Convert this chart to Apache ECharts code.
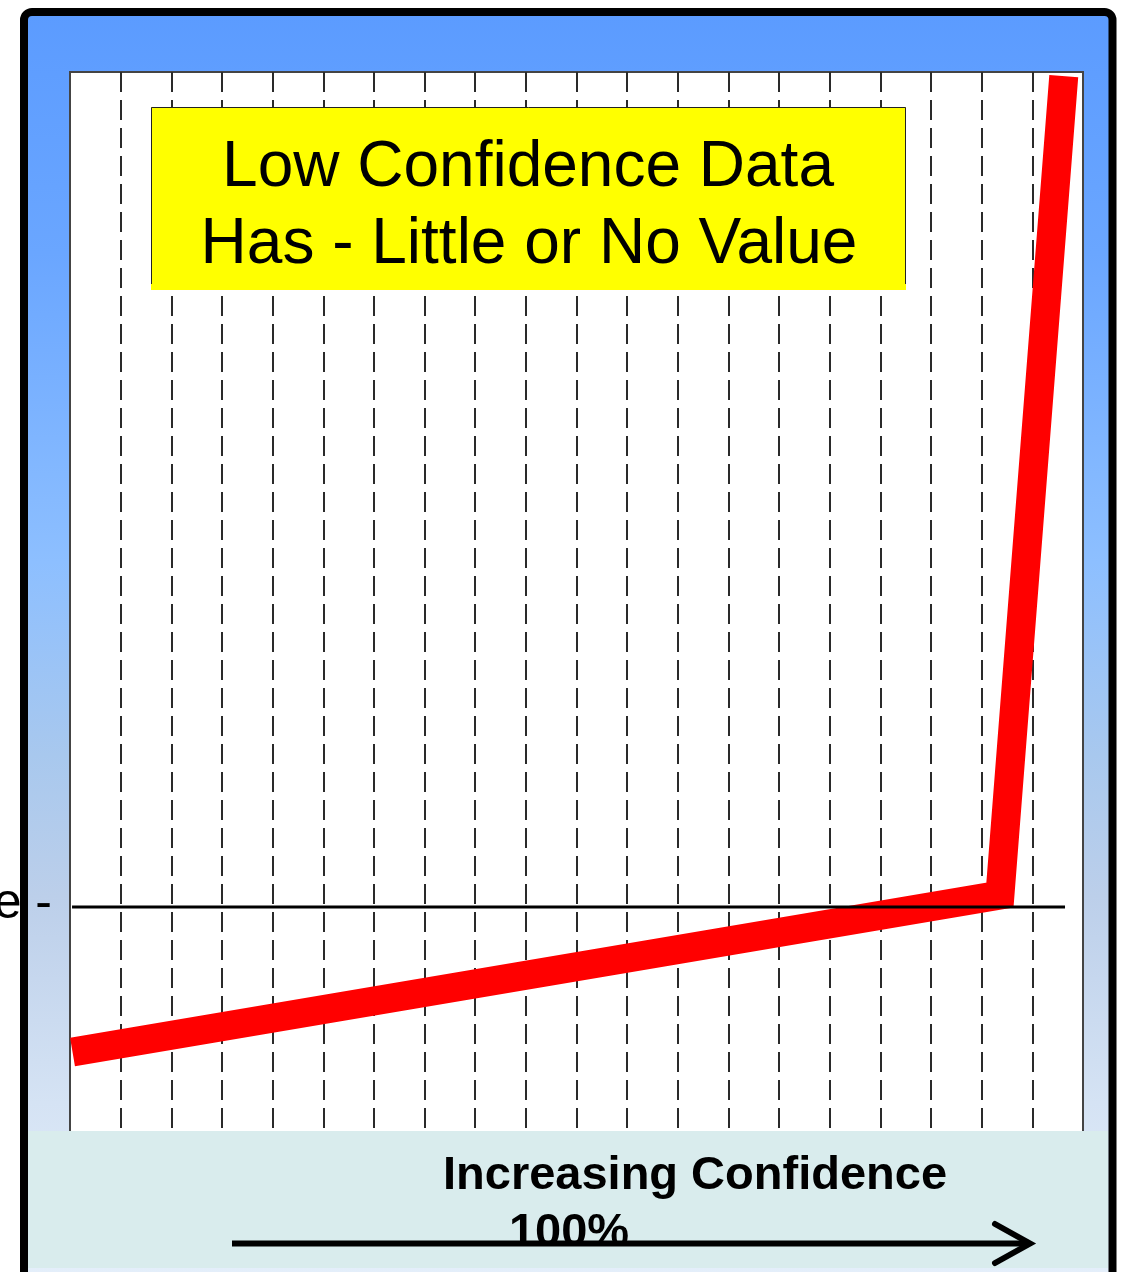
<!DOCTYPE html>
<html>
<head>
<meta charset="utf-8">
<script src="https://cdn.jsdelivr.net/npm/echarts@6/dist/echarts.min.js"></script>
<style>
html,body{margin:0;padding:0;background:#fff;}
#chart{width:1121px;height:1272px;}
</style>
</head>
<body>
<div id="chart"></div>
<script>
// Data
const confidencePositions = [0.05, 18.36, 19.62];   // x (confidence scale, 0..20)
const valueLevels = [7.55, 22.36, 99.6];             // y (value scale, 0..100)
const baselineX = [0.04, 19.645];
const baselineY = [21.23, 21.23];
const xTickCount = 20;
const titleLines = ['Low Confidence Data', 'Has - Little or No Value'];
const axisTitle = 'Increasing Confidence';
const axisSubTitle = '100%';
const sideLabel = 'e -';

const FONT = '"Liberation Sans", Arial, sans-serif';
const chart = echarts.init(document.getElementById('chart'), null, {renderer: 'canvas'});

const curveData = confidencePositions.map((x, i) => [x, valueLevels[i]]);
const baseData = baselineX.map((x, i) => [x, baselineY[i]]);

const option = {
  animation: false,
  backgroundColor: '#ffffff',
  grid: {
    left: 70, right: 38, top: 72, bottom: 140,
    show: true, backgroundColor: '#ffffff',
    borderColor: '#444', borderWidth: 2
  },
  xAxis: {
    type: 'value', min: 0, max: xTickCount, interval: 1,
    axisLine: {show: false}, axisTick: {show: false}, axisLabel: {show: false},
    splitLine: {show: true, showMinLine: false, showMaxLine: false,
      lineStyle: {color: '#2a2a2a', width: 2, type: [20, 8]}}
  },
  yAxis: {
    type: 'value', min: 0, max: 100,
    axisLine: {show: false}, axisTick: {show: false}, axisLabel: {show: false},
    splitLine: {show: false}
  },
  series: [
    {
      type: 'line', data: curveData, symbol: 'none', z: 3,
      lineStyle: {color: '#ff0000', width: 29, cap: 'butt', join: 'miter'}
    },
    {
      type: 'line', data: baseData, symbol: 'none', z: 4,
      lineStyle: {color: '#000000', width: 3, cap: 'butt'}
    }
  ],
  graphic: [
    {
      type: 'rect', z: -10, silent: true,
      shape: {x: 24, y: 12, width: 1088.5, height: 1280, r: 8},
      style: {
        fill: new echarts.graphic.LinearGradient(0, 0, 0, 1, [
          {offset: 0, color: '#5b9bff'},
          {offset: 0.19, color: '#6aa6ff'},
          {offset: 0.43, color: '#8dbfff'},
          {offset: 0.58, color: '#a8c8ee'},
          {offset: 0.69, color: '#bccfea'},
          {offset: 0.85, color: '#d5e3f4'},
          {offset: 1, color: '#e6f0fb'}
        ]),
        stroke: '#000', lineWidth: 8
      }
    },
    {
      type: 'text', z: 50, silent: true,
      style: {x: 52, y: 904, text: sideLabel, font: '50px ' + FONT, fill: '#000',
        textAlign: 'right', textVerticalAlign: 'middle'}
    },
    {
      type: 'rect', z: 50, silent: true,
      shape: {x: 151, y: 107, width: 755, height: 183},
      style: {fill: '#ffff00'}
    },
    {
      type: 'polyline', z: 51, silent: true,
      shape: {points: [[151.5, 284], [151.5, 107.5], [905.5, 107.5], [905.5, 284]]},
      style: {stroke: '#222', lineWidth: 1, fill: null}
    },
    {
      type: 'text', z: 52, silent: true,
      style: {x: 528, y: 168, text: titleLines[0], font: '64px ' + FONT, fill: '#000',
        textAlign: 'center', textVerticalAlign: 'middle'}
    },
    {
      type: 'text', z: 52, silent: true,
      style: {x: 529, y: 245, text: titleLines[1], font: '64px ' + FONT, fill: '#000',
        textAlign: 'center', textVerticalAlign: 'middle'}
    },
    {
      type: 'rect', z: 60, silent: true,
      shape: {x: 28, y: 1131, width: 1080, height: 137},
      style: {fill: '#d9eced'}
    },
    {
      type: 'text', z: 61, silent: true,
      style: {x: 695, y: 1176, text: axisTitle, font: 'bold 47px ' + FONT, fill: '#000',
        textAlign: 'center', textVerticalAlign: 'middle'}
    },
    {
      type: 'text', z: 61, silent: true,
      style: {x: 569, y: 1233, text: axisSubTitle, font: 'bold 47px ' + FONT, fill: '#000',
        textAlign: 'center', textVerticalAlign: 'middle'}
    },
    {
      type: 'line', z: 62, silent: true,
      shape: {x1: 232, y1: 1243.5, x2: 1028, y2: 1243.5},
      style: {stroke: '#000', lineWidth: 6}
    },
    {
      type: 'polyline', z: 62, silent: true,
      shape: {points: [[995, 1224], [1030, 1243.5], [995, 1263]]},
      style: {stroke: '#000', lineWidth: 6, fill: null, lineJoin: 'miter', lineCap: 'round'}
    }
  ]
};
chart.setOption(option);
</script>
</body>
</html>
